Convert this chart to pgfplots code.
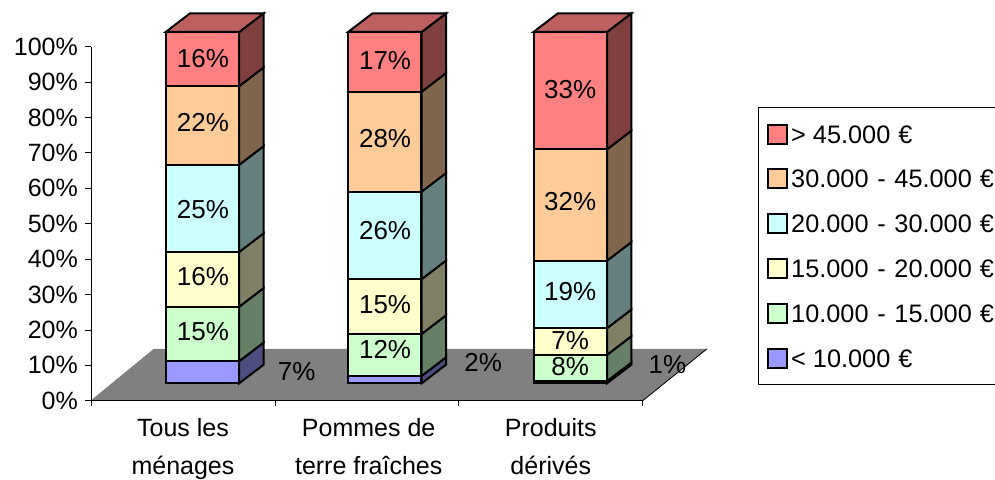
\documentclass[border=0pt]{standalone}
\usepackage{fontspec}
\setmainfont{Liberation Sans}
\usepackage{pgfplots}
\pgfplotsset{compat=1.18}
\definecolor{cRed}{HTML}{FF8080}\definecolor{cOra}{HTML}{FFCC99}\definecolor{cCya}{HTML}{CCFFFF}
\definecolor{cYel}{HTML}{FFFFCC}\definecolor{cGre}{HTML}{CCFFCC}\definecolor{cBlu}{HTML}{9999FF}
\definecolor{sRed}{HTML}{804040}\definecolor{sOra}{HTML}{80664D}\definecolor{sCya}{HTML}{668080}
\definecolor{sYel}{HTML}{808066}\definecolor{sGre}{HTML}{668066}\definecolor{sBlu}{HTML}{4D4D80}
\definecolor{tRed}{HTML}{BF6060}\definecolor{floorc}{HTML}{808080}
\newcommand\chartfont{\fontsize{25}{37.5}\selectfont}
\newcommand\datafont{\fontsize{26}{30}\selectfont}
\newcommand\legfont{\fontsize{25.3}{30}\selectfont}
\newcommand\dash{\hspace{1.7pt} - \hspace{1.7pt}}
\newcommand\eur{\hspace{1pt} €}
\tikzset{dl/.style={font=\datafont,inner sep=0pt}}
\pgfplotsset{
  face/.style={draw=black,line width=2pt,fill=#1,forget plot},
  bargeom/.style={scale only axis,width=551.7pt,height=351.3pt,at={(19.5pt,17.4pt)},anchor=south west,
    xmin=0.5,xmax=3.5,ymin=0,ymax=100,hide axis,clip=false},
}
\begin{document}
\begin{tikzpicture}
\useasboundingbox (-91pt,-78.3pt) rectangle (904pt,400.7pt);
% frame: value axis and floor
\begin{axis}[scale only axis,width=551.7pt,height=354pt,at={(0pt,0pt)},anchor=south west,
  xmin=0,xmax=3,ymin=0,ymax=100,clip=false,
  axis x line=bottom,axis y line=left,axis line style={-,line width=0.8pt,black},
  tick style={line width=0.8pt,black},tick align=outside,major tick length=5.5pt,
  xtick={0,1,2,3},xticklabels={,,,},
  extra x ticks={0.5,1.51,2.5},
  extra x tick labels={Tous les\\ménages,Pommes de\\terre fraîches,Produits\\dérivés},
  extra x tick style={major tick length=0pt,tick label style={align=center,font=\chartfont,inner sep=0pt,yshift=-17.5pt}},
  ytick={0,10,...,100},
  yticklabels={0\%,10\%,20\%,30\%,40\%,50\%,60\%,70\%,80\%,90\%,100\%},
  yticklabel style={font=\chartfont,inner sep=0pt,xshift=-7.5pt},
]
\addplot[fill=floorc,draw=floorc,line width=0.5pt,forget plot] coordinates {(0,0)(3,0)(3.348,14.6)(0.3426,14.6)} --cycle;
\addplot[draw=black,line width=0.8pt,forget plot] coordinates {(3,0)(3.348,14.6)};
\addplot[draw=black,line width=0.8pt,forget plot] coordinates {(0,0)(3,0)};
\end{axis}
% side and top faces
\begin{axis}[bargeom]
% bar 1
\addplot[face=sBlu] coordinates {(1.2,0)(1.333,5.32)(1.333,11.62)(1.2,6.3)} --cycle;
\addplot[face=sGre] coordinates {(1.2,6.3)(1.333,11.62)(1.333,27.12)(1.2,21.8)} --cycle;
\addplot[face=sYel] coordinates {(1.2,21.8)(1.333,27.12)(1.333,42.72)(1.2,37.4)} --cycle;
\addplot[face=sCya] coordinates {(1.2,37.4)(1.333,42.72)(1.333,67.52)(1.2,62.2)} --cycle;
\addplot[face=sOra] coordinates {(1.2,62.2)(1.333,67.52)(1.333,89.92)(1.2,84.6)} --cycle;
\addplot[face=sRed] coordinates {(1.2,84.6)(1.333,89.92)(1.333,105.32)(1.2,100)} --cycle;
\addplot[face=tRed] coordinates {(0.8,100)(0.933,105.32)(1.333,105.32)(1.2,100)} --cycle;
% bar 2
\addplot[face=sBlu] coordinates {(2.192,0)(2.325,5.32)(2.325,7.42)(2.192,2.1)} --cycle;
\addplot[face=sGre] coordinates {(2.192,2.1)(2.325,7.42)(2.325,19.37)(2.192,14.05)} --cycle;
\addplot[face=sYel] coordinates {(2.192,14.05)(2.325,19.37)(2.325,34.97)(2.192,29.65)} --cycle;
\addplot[face=sCya] coordinates {(2.192,29.65)(2.325,34.97)(2.325,59.87)(2.192,54.55)} --cycle;
\addplot[face=sOra] coordinates {(2.192,54.55)(2.325,59.87)(2.325,88.32)(2.192,83)} --cycle;
\addplot[face=sRed] coordinates {(2.192,83)(2.325,88.32)(2.325,105.32)(2.192,100)} --cycle;
\addplot[face=tRed] coordinates {(1.792,100)(1.925,105.32)(2.325,105.32)(2.192,100)} --cycle;
% bar 3
\addplot[face=sBlu] coordinates {(3.2,0)(3.333,5.32)(3.333,5.92)(3.2,0.6)} --cycle;
\addplot[face=sGre] coordinates {(3.2,0.6)(3.333,5.92)(3.333,13.42)(3.2,8.1)} --cycle;
\addplot[face=sYel] coordinates {(3.2,8.1)(3.333,13.42)(3.333,21.02)(3.2,15.7)} --cycle;
\addplot[face=sCya] coordinates {(3.2,15.7)(3.333,21.02)(3.333,40.22)(3.2,34.9)} --cycle;
\addplot[face=sOra] coordinates {(3.2,34.9)(3.333,40.22)(3.333,71.92)(3.2,66.6)} --cycle;
\addplot[face=sRed] coordinates {(3.2,66.6)(3.333,71.92)(3.333,105.32)(3.2,100)} --cycle;
\addplot[face=tRed] coordinates {(2.8,100)(2.933,105.32)(3.333,105.32)(3.2,100)} --cycle;
\end{axis}
% front faces, legend
\begin{axis}[bargeom,ybar stacked,bar width=73pt,
  reverse legend,
  legend cell align=left,
  legend image code/.code={\draw[#1] (0pt,-9.5pt) rectangle (19.5pt,9.5pt);},
  legend style={at={(1.1742,0.7857)},anchor=north west,draw=black,line width=0.8pt,
    inner xsep=8pt,inner ysep=16pt,row sep=23.8pt,column sep=3pt,
    font=\legfont,nodes={inner sep=0pt,text height=18pt,text depth=0pt}},
]
\addplot[fill=cBlu,draw=black,line width=2pt] coordinates {(1,6.3)(1.992,2.1)(3,0.6)};
\addplot[fill=cGre,draw=black,line width=2pt] coordinates {(1,15.5)(1.992,11.95)(3,7.5)};
\addplot[fill=cYel,draw=black,line width=2pt] coordinates {(1,15.6)(1.992,15.6)(3,7.6)};
\addplot[fill=cCya,draw=black,line width=2pt] coordinates {(1,24.8)(1.992,24.9)(3,19.2)};
\addplot[fill=cOra,draw=black,line width=2pt] coordinates {(1,22.4)(1.992,28.45)(3,31.7)};
\addplot[fill=cRed,draw=black,line width=2pt] coordinates {(1,15.4)(1.992,17)(3,33.4)};
\legend{< 10.000\eur,10.000\dash 15.000\eur,15.000\dash 20.000\eur,20.000\dash 30.000\eur,30.000\dash 45.000\eur,> 45.000\eur}
\end{axis}
% data labels, above the bars
\begin{axis}[bargeom]
\node[dl] at (axis cs:1.003,92.3) {16\%};
\node[dl] at (axis cs:1.003,74.1) {22\%};
\node[dl] at (axis cs:1.003,49.6) {25\%};
\node[dl] at (axis cs:1.003,30.3) {16\%};
\node[dl] at (axis cs:1.003,14.7) {15\%};
\node[dl] at (axis cs:1.512,3.3) {7\%};
\node[dl] at (axis cs:1.993,92.0) {17\%};
\node[dl] at (axis cs:1.993,69.8) {28\%};
\node[dl] at (axis cs:1.993,43.4) {26\%};
\node[dl] at (axis cs:1.993,22.3) {15\%};
\node[dl] at (axis cs:1.993,9.5) {12\%};
\node[dl] at (axis cs:2.527,5.9) {2\%};
\node[dl] at (axis cs:3,83.5) {33\%};
\node[dl] at (axis cs:3,51.6) {32\%};
\node[dl] at (axis cs:3,26.1) {19\%};
\node[dl] at (axis cs:3,12.3) {7\%};
\node[dl] at (axis cs:3,4.7) {8\%};
\node[dl] at (axis cs:3.528,5.2) {1\%};
\end{axis}
\end{tikzpicture}
\end{document}
